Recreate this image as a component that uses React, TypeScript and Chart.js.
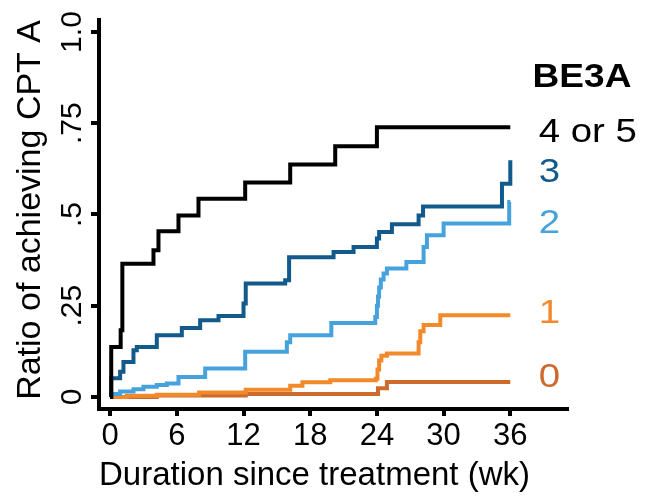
import React, { useEffect, useRef } from "react";
import { Chart, registerables } from "chart.js";

Chart.register(...registerables);

// ---- axes ----
const xTickValues = [0, 6, 12, 18, 24, 30, 36];
const yTickValues = [0, 0.25, 0.5, 0.75, 1];
const yTickLabels = ["0", ".25", ".5", ".75", "1.0"];
const xTitle = "Duration since treatment (wk)";
const yTitle = "Ratio of achieving CPT A";

// ---- groups ----
const legendTitle = "BE3A";
const groupLabels = ["4 or 5", "3", "2", "1", "0"];
const groupColors = ["#000000", "#125a8b", "#46a2dd", "#f28a2c", "#cd6b2e"];
const groupLabelAnchors = [0.723, 0.616, 0.475, 0.228, 0.054];

// ---- step curves (week of step, ratio after step) ----
const weeks45 = [0, 0.1, 0.95, 1.1, 3.9, 4.35, 6.15, 7.95, 12.15, 16.2, 20.25, 24, 36];
const ratio45 = [0, 0.137, 0.183, 0.365, 0.402, 0.454, 0.497, 0.543, 0.588, 0.637, 0.687, 0.739, 0.739];

const weeks3 = [0, 0.1, 0.9, 1.2, 2.1, 2.4, 4.2, 6.45, 8.1, 9.75, 12.0, 12.2, 15.75, 16.1, 20.1, 21.9, 24.0, 24.2, 25.35, 27.75, 28.15, 35.25, 36];
const ratio3 = [0, 0.051, 0.069, 0.096, 0.128, 0.137, 0.169, 0.189, 0.21, 0.222, 0.256, 0.311, 0.32, 0.383, 0.397, 0.411, 0.434, 0.452, 0.473, 0.497, 0.522, 0.584, 0.649];

const weeks2 = [0, 0.1, 0.9, 2.1, 3.0, 4.2, 5.1, 6.15, 8.55, 12.15, 15.9, 16.2, 19.9, 23.85, 24.0, 24.1, 24.2, 24.35, 24.6, 24.9, 26.65, 28.2, 28.5, 30.0, 35.9, 36];
const ratio2 = [0, 0.008, 0.015, 0.021, 0.028, 0.033, 0.037, 0.055, 0.078, 0.124, 0.15, 0.169, 0.203, 0.219, 0.25, 0.275, 0.3, 0.322, 0.338, 0.352, 0.37, 0.411, 0.443, 0.475, 0.534, 0.534];

const weeks1 = [0, 1.5, 4.2, 8, 12.2, 16.2, 17.3, 19.8, 23.9, 24.05, 24.2, 24.4, 24.9, 27.75, 27.9, 28.2, 29.7, 36];
const ratio1 = [0, 0.003, 0.006, 0.012, 0.02, 0.031, 0.04, 0.046, 0.05, 0.075, 0.1, 0.113, 0.119, 0.15, 0.18, 0.197, 0.224, 0.224];

const weeks0 = [0, 4.2, 12.2, 24.1, 24.9, 36];
const ratio0 = [0, 0.004, 0.008, 0.024, 0.041, 0.041];

const seriesWeeks = [weeks45, weeks3, weeks2, weeks1, weeks0];
const seriesRatios = [ratio45, ratio3, ratio2, ratio1, ratio0];

const FONT = '"Liberation Sans", Arial, Helvetica, sans-serif';

function stretchedText(ctx: CanvasRenderingContext2D, text: string, x: number, y: number, sx: number) {
  ctx.save();
  ctx.translate(x, y);
  ctx.scale(sx, 1);
  ctx.fillText(text, 0, 0);
  ctx.restore();
}

const endLabels = {
  id: "endLabels",
  afterDraw(chart: any) {
    const { ctx } = chart;
    const x = chart.scales.x;
    const y = chart.scales.y;
    ctx.save();
    ctx.textAlign = "left";
    ctx.textBaseline = "middle";
    ctx.font = `bold 34px ${FONT}`;
    ctx.fillStyle = "#000";
    stretchedText(ctx, legendTitle, x.getPixelForValue(38.0), y.getPixelForValue(0.874), 1.09);
    ctx.font = `34px ${FONT}`;
    groupLabels.forEach((lab, i) => {
      ctx.fillStyle = groupColors[i];
      stretchedText(ctx, lab, x.getPixelForValue(38.55), y.getPixelForValue(groupLabelAnchors[i]), 1.13);
    });
    ctx.restore();
  },
};

export default function App() {
  const ref = useRef<HTMLCanvasElement | null>(null);
  useEffect(() => {
    if (!ref.current) return;
    const datasets = groupLabels.map((lab, i) => ({
      label: lab,
      data: seriesWeeks[i].map((w, j) => ({ x: w, y: seriesRatios[i][j] })),
      borderColor: groupColors[i],
      backgroundColor: groupColors[i],
      borderWidth: 4,
      pointRadius: 0,
      stepped: true as const,
      fill: false,
    }));
    const chart = new Chart(ref.current, {
      type: "line",
      data: { datasets },
      options: {
        responsive: false,
        animation: false,
        layout: { padding: { left: 0, right: 87, top: 20, bottom: 0 } },
        plugins: { legend: { display: false }, tooltip: { enabled: false } },
        scales: {
          x: {
            type: "linear",
            min: -1,
            max: 41.1,
            afterBuildTicks: (s: any) => {
              s.ticks = xTickValues.map((v) => ({ value: v }));
            },
            afterFit: (s: any) => {
              s.height = 87;
              s.paddingLeft = 0;
              s.paddingRight = 0;
            },
            grid: { display: true, drawOnChartArea: false, drawTicks: true, tickLength: 7, lineWidth: 4, color: "#000" },
            border: { display: true, width: 4, color: "#000" },
            ticks: {
              color: "#000",
              font: { family: FONT, size: 31 },
              padding: 2,
              maxRotation: 0,
              autoSkip: false,
              callback: (v: any) => String(v),
            },
            title: {
              display: true,
              text: xTitle,
              align: "start",
              color: "#000",
              font: { family: FONT, size: 33 },
              padding: { top: 0, bottom: 0 },
            },
          },
          y: {
            type: "linear",
            min: -0.033,
            max: 1.033,
            afterBuildTicks: (s: any) => {
              s.ticks = yTickValues.map((v) => ({ value: v }));
            },
            afterFit: (s: any) => {
              s.width = 99;
              s.paddingTop = 0;
              s.paddingBottom = 0;
            },
            grid: { display: true, drawOnChartArea: false, drawTicks: true, tickLength: 8, lineWidth: 4, color: "#000" },
            border: { display: true, width: 4, color: "#000" },
            ticks: {
              color: "#000",
              font: { family: FONT, size: 30 },
              padding: -3,
              minRotation: 90,
              maxRotation: 90,
              crossAlign: "center",
              autoSkip: false,
              callback: (v: any) => {
                const k = yTickValues.indexOf(Number(v));
                return k >= 0 ? yTickLabels[k] : "";
              },
            },
            title: {
              display: true,
              text: yTitle,
              align: "end",
              color: "#000",
              font: { family: FONT, size: 34 },
              padding: { top: 10.5, bottom: 0 },
            },
          },
        },
      },
      plugins: [endLabels],
    });
    return () => chart.destroy();
  }, []);
  return (
    <div style={{ position: "fixed", left: 0, top: 0, width: 654, height: 496, background: "#fff" }}>
      <canvas ref={ref} width={654} height={496} style={{ width: 654, height: 496 }} />
    </div>
  );
}
